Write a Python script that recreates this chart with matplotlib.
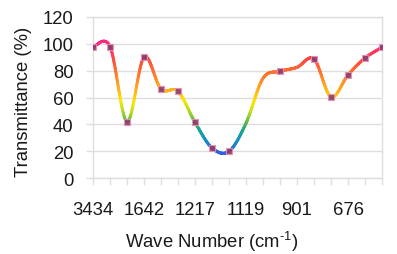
import numpy as np
import matplotlib
matplotlib.use("Agg")
import matplotlib.pyplot as plt
from matplotlib.collections import LineCollection
from matplotlib.colors import LinearSegmentedColormap

# wave numbers (only every third one is labelled on the axis)
wavenumbers = ["3434", "2920", "2852", "1642", "1450", "1384", "1217", "1160", "1140",
               "1119", "1050", "1000", "901", "800", "720", "676", "600", "550"]
transmittance = [97.5, 98.0, 42.0, 90.0, 66.3, 64.6, 41.5, 22.4, 19.9,
                 40.8, 74.3, 79.5, 82.5, 88.7, 60.4, 76.8, 89.4, 97.4]
yticks = [0, 20, 40, 60, 80, 100, 120]
faint = [9, 10, 12]   # points whose marker is barely visible

plt.rcParams['font.family'] = ['Liberation Sans', 'DejaVu Sans']
plt.rcParams['mathtext.fontset'] = 'custom'
plt.rcParams['mathtext.rm'] = 'Liberation Sans'

x = np.arange(len(transmittance), dtype=float)
y = np.array(transmittance, dtype=float)


def smooth_curve(x, y, n=60):
    # excel-like smoothed line: cubic bezier with catmull-rom control points
    px = np.concatenate([[x[0]], x, [x[-1]]])
    py = np.concatenate([[y[0]], y, [y[-1]]])
    t = np.linspace(0, 1, n)[:, None]
    xs, ys = [], []
    for i in range(1, len(px) - 2):
        p0 = np.array([px[i], py[i]])
        p3 = np.array([px[i + 1], py[i + 1]])
        c1 = p0 + (p3 - np.array([px[i - 1], py[i - 1]])) / 6
        c2 = p3 - (np.array([px[i + 2], py[i + 2]]) - p0) / 6
        b = (1 - t)**3 * p0 + 3 * (1 - t)**2 * t * c1 + 3 * (1 - t) * t**2 * c2 + t**3 * p3
        xs.append(b[:, 0])
        ys.append(b[:, 1])
    return np.concatenate(xs), np.concatenate(ys)


cmap = LinearSegmentedColormap.from_list("ir", [
    (0.00, "#2f5ee8"),
    (0.12, "#1790c8"),
    (0.22, "#19a890"),
    (0.30, "#5cc040"),
    (0.40, "#c8e01c"),
    (0.48, "#ffe600"),
    (0.58, "#ffb41c"),
    (0.72, "#ff7a2a"),
    (0.86, "#ff4840"),
    (1.00, "#ff2a80"),
])

fig = plt.figure(figsize=(3.97, 2.55), dpi=100)
ax = fig.add_axes([93 / 397, 76 / 255, 289 / 397, 161 / 255])

sx, sy = smooth_curve(x, y)
pts = np.column_stack([sx, sy]).reshape(-1, 1, 2)
segs = np.concatenate([pts[:-1], pts[1:]], axis=1)
mid = (sy[:-1] + sy[1:]) / 2
lc = LineCollection(segs, cmap=cmap, norm=plt.Normalize(18, 100), linewidths=2.1,
                    capstyle='round', zorder=3)
lc.set_array(mid)
ax.add_collection(lc)

mask = np.array([i not in faint for i in range(len(x))])
ax.plot(x[mask], y[mask], 's', ms=3.8, mfc='#8a3c6e', mec='#e890b0', mew=0.8, alpha=0.9, zorder=4)
ax.plot(x[~mask], y[~mask], 's', ms=1.2, mfc='#c080a0', mec='none', alpha=0.6, zorder=4)

ax.set_xlim(0, len(x) - 1)
ax.set_ylim(0, 120)
ax.set_yticks(yticks)
ax.set_xticks(x)
ax.set_xticklabels([w if i % 3 == 0 else "" for i, w in enumerate(wavenumbers)])
ax.grid(axis='y', color='#dedede', lw=1.0, zorder=0)
for s in ax.spines.values():
    s.set_color('#dedede')
    s.set_linewidth(1.0)
ax.tick_params(axis='both', colors='#dedede', length=5, width=1.0, labelsize=13.3,
               labelcolor='#1a1a1a')
ax.tick_params(axis='y', pad=9)
ax.tick_params(axis='x', pad=11.5)

fig.text(24 / 397, 1 - 102 / 255, "Transmittance (%)", rotation=90, ha='center', va='center',
         fontsize=13.3, color='#1a1a1a')
fig.text(212 / 397, 1 - 242 / 255, r"Wave Number (cm$^{\text{-1}}$)", ha='center', va='center',
         fontsize=13.3, color='#1a1a1a')

fig.savefig("out.png", dpi=100)
